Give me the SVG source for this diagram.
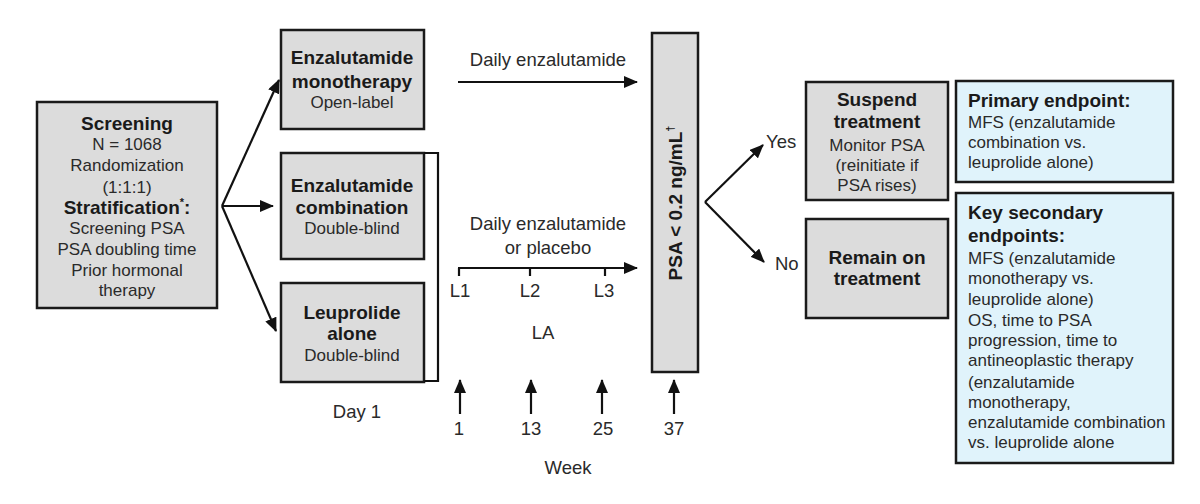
<svg xmlns="http://www.w3.org/2000/svg" width="1200" height="504" viewBox="0 0 1200 504">
<defs>
<marker id="ah" markerUnits="userSpaceOnUse" markerWidth="14" markerHeight="12" viewBox="0 0 14 12" refX="13" refY="6" orient="auto">
<path d="M0,0 L14,6 L0,12 Z" fill="#111"/>
</marker>
</defs>
<style>
.box{fill:#dcdcdc;stroke:#1a1a1a;stroke-width:2.5}
.blue{fill:#e0f3fb;stroke:#1a1a1a;stroke-width:2.5}
text{font-family:"Liberation Sans",Arial,sans-serif;fill:#2a2a2a}
.r{font-size:17px}
.b{font-size:19px;font-weight:bold;fill:#1a1a1a}
.t{font-size:18.5px}
.c{text-anchor:middle}
.ln{stroke:#111;stroke-width:2.2;fill:none}
.ar{stroke:#111;stroke-width:2.2;fill:none;marker-end:url(#ah)}
</style>

<g id="screening">
<rect class="box" x="37" y="102" width="180" height="206"/>
<text class="b c" x="127" y="130">Screening</text>
<text class="r c" x="127" y="150">N = 1068</text>
<text class="r c" x="127" y="171">Randomization</text>
<text class="r c" x="127" y="193">(1:1:1)</text>
<text class="b c" x="127" y="214">Stratification<tspan font-size="11" dy="-8">*</tspan><tspan dy="8">:</tspan></text>
<text class="r c" x="127" y="234">Screening PSA</text>
<text class="r c" x="127" y="255">PSA doubling time</text>
<text class="r c" x="127" y="276">Prior hormonal</text>
<text class="r c" x="127" y="296">therapy</text>
</g>

<g id="mono">
<rect class="box" x="281" y="30" width="143" height="99"/>
<text class="b c" x="352" y="64">Enzalutamide</text>
<text class="b c" x="352" y="88">monotherapy</text>
<text class="r c" x="352" y="108">Open-label</text>
</g>

<g id="combo">
<rect class="box" x="281" y="153" width="143" height="106"/>
<text class="b c" x="352" y="192">Enzalutamide</text>
<text class="b c" x="352" y="214">combination</text>
<text class="r c" x="352" y="234">Double-blind</text>
</g>

<g id="leuprolide">
<rect class="box" x="281" y="283" width="143" height="99"/>
<text class="b c" x="352" y="319">Leuprolide</text>
<text class="b c" x="352" y="340">alone</text>
<text class="r c" x="352" y="361">Double-blind</text>
</g>

<g id="psa">
<rect class="box" x="652" y="33" width="46" height="339"/>
<text class="b c" transform="translate(682,203) rotate(-90)">PSA &lt; 0.2 ng/mL<tspan font-size="11" dy="-8">†</tspan></text>
</g>

<g id="suspend">
<rect class="box" x="806" y="82" width="142" height="118"/>
<text class="b c" x="877" y="106">Suspend</text>
<text class="b c" x="877" y="128">treatment</text>
<text class="r c" x="877" y="151">Monitor PSA</text>
<text class="r c" x="877" y="171">(reinitiate if</text>
<text class="r c" x="877" y="191">PSA rises)</text>
</g>

<g id="remain">
<rect class="box" x="806" y="219" width="142" height="99"/>
<text class="b c" x="877" y="264">Remain on</text>
<text class="b c" x="877" y="285">treatment</text>
</g>

<g id="primary">
<rect class="blue" x="956" y="81" width="217" height="101"/>
<text class="b" x="968" y="107">Primary endpoint:</text>
<text class="r" x="968" y="128">MFS (enzalutamide</text>
<text class="r" x="968" y="148">combination vs.</text>
<text class="r" x="968" y="168">leuprolide alone)</text>
</g>

<g id="secondary">
<rect class="blue" x="956" y="193" width="217" height="270"/>
<text class="b" x="968" y="219">Key secondary</text>
<text class="b" x="968" y="242">endpoints:</text>
<text class="r" x="968" y="264">MFS (enzalutamide</text>
<text class="r" x="968" y="284">monotherapy vs.</text>
<text class="r" x="968" y="305">leuprolide alone)</text>
<text class="r" x="968" y="326">OS, time to PSA</text>
<text class="r" x="968" y="346">progression, time to</text>
<text class="r" x="968" y="366">antineoplastic therapy</text>
<text class="r" x="968" y="388">(enzalutamide</text>
<text class="r" x="968" y="408">monotherapy,</text>
<text class="r" x="968" y="428">enzalutamide combination</text>
<text class="r" x="968" y="448">vs. leuprolide alone</text>
</g>

<g id="labels">
<text class="t c" x="548" y="66">Daily enzalutamide</text>
<text class="t c" x="548" y="230">Daily enzalutamide</text>
<text class="t c" x="548" y="254">or placebo</text>
<text class="t c" x="460" y="297">L1</text>
<text class="t c" x="530" y="297">L2</text>
<text class="t c" x="604" y="297">L3</text>
<text class="t c" x="543" y="339">LA</text>
<text class="t c" x="357" y="418">Day 1</text>
<text class="t c" x="459" y="435">1</text>
<text class="t c" x="531" y="435">13</text>
<text class="t c" x="603" y="435">25</text>
<text class="t c" x="674" y="435">37</text>
<text class="t c" x="568" y="474">Week</text>
<text class="t" x="766" y="148">Yes</text>
<text class="t" x="775" y="270">No</text>
</g>

<g id="connectors">
<path class="ar" d="M222,206 L279,80"/>
<path class="ar" d="M222,206 L273,206"/>
<path class="ar" d="M222,206 L276,331"/>
<path class="ln" d="M424,153 H438 V381 H424"/>
<path class="ar" d="M458,82 H637"/>
<path class="ar" d="M458,268 H637"/>
<path class="ln" d="M459,276 V268"/>
<path class="ln" d="M530,276 V268"/>
<path class="ln" d="M605,276 V268"/>
<path class="ar" d="M460,414 V380"/>
<path class="ar" d="M531,414 V380"/>
<path class="ar" d="M602,414 V380"/>
<path class="ar" d="M674,414 V380"/>
<path class="ar" d="M705,202 L763,145"/>
<path class="ar" d="M705,202 L764,262"/>
</g>
</svg>
